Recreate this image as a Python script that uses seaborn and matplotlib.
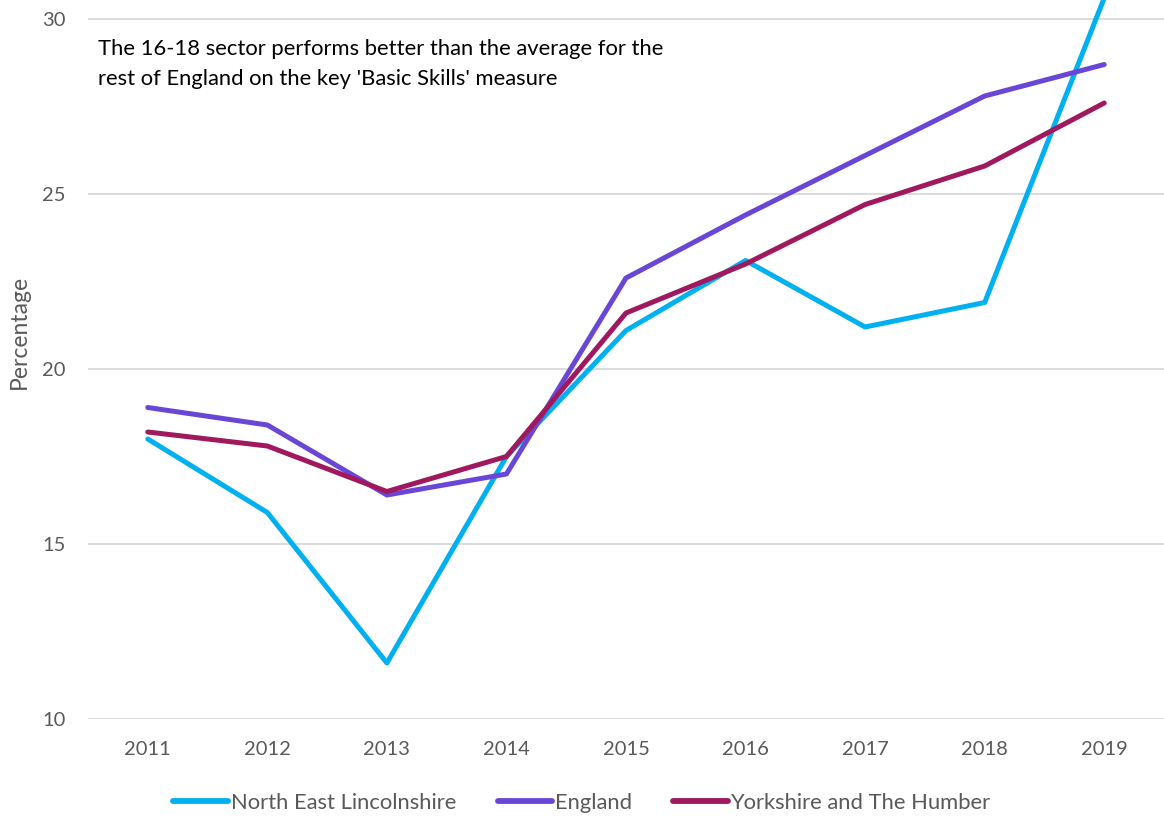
import pandas as pd
import numpy as np
import matplotlib
matplotlib.use('Agg')
import matplotlib.pyplot as plt
import seaborn as sns
from matplotlib.lines import Line2D

# ── data ─────────────────────────────────────────────
years = [2011, 2012, 2013, 2014, 2015, 2016, 2017, 2018, 2019]
ne_lincs = [18.0, 15.9, 11.6, 17.5, 21.1, 23.1, 21.2, 21.9, 30.6]
england = [18.9, 18.4, 16.4, 17.0, 22.6, 24.4, 26.1, 27.8, 28.7]
yorkshire = [18.2, 17.8, 16.5, 17.5, 21.6, 23.0, 24.7, 25.8, 27.6]

series_names = ['North East Lincolnshire', 'England', 'Yorkshire and The Humber']
note_lines = ["The 16-18 sector performs better than the average for the",
              "rest of England on the key 'Basic Skills' measure"]
COLORS = ['#00B0F0', '#6A46D6', '#A0185E']
GREY = '#595959'

df = pd.DataFrame({
    'Year': years * 3,
    'Value': ne_lincs + england + yorkshire,
    'Area': np.repeat(series_names, len(years)),
})

sns.set_theme(style='white')
plt.rcParams['font.family'] = ['Lato', 'DejaVu Sans']

fig = plt.figure(figsize=(11.64, 8.16), dpi=100)
ax = fig.add_axes([88 / 1164, 1 - 719 / 816, 1 - 88 / 1164, 719 / 816])

sns.lineplot(data=df, x='Year', y='Value', hue='Area', palette=COLORS,
             hue_order=series_names, linewidth=3.6, ax=ax, legend=False,
             solid_capstyle='round')

ax.set_xlim(2010.5, 2019.5)
ax.set_ylim(10, 30 + 19 / 35)
ax.set_yticks([10, 15, 20, 25, 30])
ax.set_xticks(years)
ax.set_xticklabels([str(y) for y in years])
ax.grid(axis='y', color='#D9D9D9', linewidth=1.3)
ax.set_axisbelow(True)
for s in ax.spines.values():
    s.set_visible(False)
ax.tick_params(axis='both', colors=GREY, labelsize=14.5, length=0)
ax.tick_params(axis='x', pad=16)
ax.tick_params(axis='y', pad=16)
ax.set_xlabel('')
ax.set_ylabel('Percentage', color=GREY, fontsize=16.5)
ax.yaxis.set_label_coords(-58 / 1076, 0.538)

for i, line in enumerate(note_lines):
    fig.text(98 / 1164, 1 - (49 + 30 * i) / 816, line,
             fontsize=15.8, color='black', va='center', ha='left')

handles = [Line2D([0], [0], color=c, linewidth=4.2, solid_capstyle='round') for c in COLORS]
fig.legend(handles, series_names, loc='center', bbox_to_anchor=(0.5, 1 - 803 / 816),
           ncol=3, frameon=False, fontsize=15.8, labelcolor=GREY,
           handlelength=2.5, handletextpad=0.1, columnspacing=1.9)

fig.savefig('out.png', dpi=100)
